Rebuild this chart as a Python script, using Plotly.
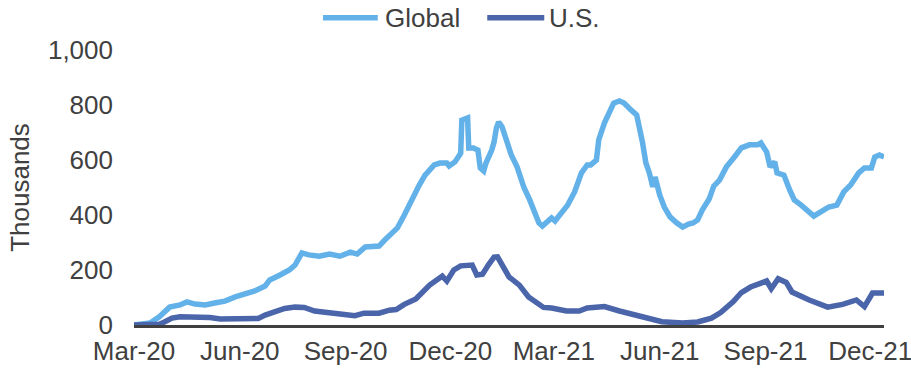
import plotly.graph_objects as go

# ---- Data (thousands, 7-day average cases) ----
global_dates = [
    "2020-03-01", "2020-03-15", "2020-03-23", "2020-04-01", "2020-04-10", "2020-04-16",
    "2020-04-23", "2020-05-02", "2020-05-10", "2020-05-19", "2020-05-28", "2020-06-05",
    "2020-06-14", "2020-06-23", "2020-06-27", "2020-07-06", "2020-07-14", "2020-07-19",
    "2020-07-23", "2020-07-25", "2020-07-31", "2020-08-09", "2020-08-18", "2020-08-27",
    "2020-09-05", "2020-09-11", "2020-09-18", "2020-09-24", "2020-09-30", "2020-10-05",
    "2020-10-11", "2020-10-16", "2020-10-22", "2020-10-28", "2020-11-04", "2020-11-09",
    "2020-11-13", "2020-11-17", "2020-11-22", "2020-11-28", "2020-11-30", "2020-12-05",
    "2020-12-09", "2020-12-10", "2020-12-11", "2020-12-14", "2020-12-16", "2020-12-17",
    "2020-12-21", "2020-12-25", "2020-12-27", "2020-12-30", "2021-01-01", "2021-01-06",
    "2021-01-08", "2021-01-10", "2021-01-12", "2021-01-15", "2021-01-19", "2021-01-23",
    "2021-01-28", "2021-01-30", "2021-02-03", "2021-02-08", "2021-02-12", "2021-02-16",
    "2021-02-19", "2021-02-23", "2021-02-27", "2021-03-02", "2021-03-08", "2021-03-13",
    "2021-03-19", "2021-03-25", "2021-03-30", "2021-04-02", "2021-04-07", "2021-04-09",
    "2021-04-14", "2021-04-18", "2021-04-22", "2021-04-27", "2021-05-01", "2021-05-07",
    "2021-05-12", "2021-05-17", "2021-05-20", "2021-05-23", "2021-05-26", "2021-05-28",
    "2021-06-01", "2021-06-05", "2021-06-10", "2021-06-16", "2021-06-21", "2021-06-26",
    "2021-06-30", "2021-07-04", "2021-07-08", "2021-07-14", "2021-07-18", "2021-07-23",
    "2021-07-29", "2021-08-05", "2021-08-11", "2021-08-18", "2021-08-25", "2021-08-28",
    "2021-09-02", "2021-09-05", "2021-09-09", "2021-09-11", "2021-09-17", "2021-09-22",
    "2021-09-26", "2021-10-02", "2021-10-07", "2021-10-13", "2021-10-19", "2021-10-26",
    "2021-11-02", "2021-11-08", "2021-11-14", "2021-11-21", "2021-11-26", "2021-12-02",
    "2021-12-05", "2021-12-09", "2021-12-13",
]
global_values = [
    0, 7, 30, 65, 73, 84,
    76, 73, 80, 87, 102, 113,
    124, 142, 164, 182, 200, 218,
    247, 262, 255, 250, 258, 250,
    265, 258, 284, 287, 287, 309,
    335, 353, 400, 455, 509, 545,
    564, 582, 589, 589, 578, 593,
    618, 625, 745, 753, 753, 644,
    644, 636, 571, 560, 589, 636,
    665, 716, 738, 720, 673, 618,
    575, 545, 500, 455, 407, 371,
    360, 375, 389, 378, 411, 436,
    484, 553, 582, 582, 600, 673,
    735, 771, 807, 815, 807, 782,
    764, 665, 589, 553, 502, 538,
    473, 429, 393, 371, 356, 367,
    371, 382, 418, 458, 505, 527,
    575, 611, 644, 655, 655, 662,
    629, 575, 593, 553, 545, 491,
    455, 436, 418, 396, 411, 429,
    436, 484, 509, 553, 571, 571,
    611, 618, 611,
]

us_dates = [
    "2020-03-01", "2020-03-23", "2020-03-27", "2020-04-03", "2020-04-10", "2020-04-19",
    "2020-04-28", "2020-05-06", "2020-05-15", "2020-05-28", "2020-06-10", "2020-06-17",
    "2020-06-23", "2020-07-01", "2020-07-10", "2020-07-19", "2020-07-27", "2020-08-05",
    "2020-08-14", "2020-08-22", "2020-08-31", "2020-09-09", "2020-09-17", "2020-09-30",
    "2020-10-09", "2020-10-15", "2020-10-22", "2020-11-01", "2020-11-13", "2020-11-24",
    "2020-11-28", "2020-12-04", "2020-12-10", "2020-12-20", "2020-12-24", "2020-12-29",
    "2021-01-03", "2021-01-08", "2021-01-11", "2021-01-21", "2021-01-30", "2021-02-07",
    "2021-02-20", "2021-02-27", "2021-03-12", "2021-03-23", "2021-03-30", "2021-04-14",
    "2021-04-27", "2021-05-10", "2021-05-20", "2021-06-03", "2021-06-21", "2021-07-04",
    "2021-07-16", "2021-07-24", "2021-08-04", "2021-08-11", "2021-08-19", "2021-08-26",
    "2021-09-02", "2021-09-06", "2021-09-12", "2021-09-19", "2021-09-24", "2021-10-09",
    "2021-10-25", "2021-11-07", "2021-11-19", "2021-11-26", "2021-12-03", "2021-12-13",
]
us_values = [
    0, 3, 10, 25, 30, 29,
    29, 27, 22, 22, 20, 24,
    36, 47, 60, 65, 64, 51,
    46, 45, 40, 34, 43, 43,
    54, 56, 75, 95, 145, 178,
    160, 200, 215, 218, 182, 185,
    218, 247, 248, 175, 145, 102,
    64, 62, 51, 51, 62, 67,
    51, 38, 25, 12, 7, 11,
    25, 45, 85, 118, 138, 150,
    160, 132, 168, 155, 120, 91,
    65, 75, 91, 67, 116, 116,
]

series_names = ["Global", "U.S."]
series_colors = ["#63B1E9", "#4A65AA"]

tick_dates = ["2020-03-01", "2020-06-01", "2020-09-01", "2020-12-01",
              "2021-03-01", "2021-06-01", "2021-09-01", "2021-12-01"]
tick_labels = ["Mar-20", "Jun-20", "Sep-20", "Dec-20",
               "Mar-21", "Jun-21", "Sep-21", "Dec-21"]
y_ticks = [0, 200, 400, 600, 800, 1000]
y_labels = ["0", "200", "400", "600", "800", "1,000"]

FONT = "Liberation Sans, Arial, sans-serif"
TXT = "#404040"
LW = 5.5

fig = go.Figure()
for name, color, xs, ys in zip(series_names, series_colors,
                               [global_dates, us_dates], [global_values, us_values]):
    fig.add_trace(go.Scatter(x=xs, y=ys, mode="lines", name=name,
                             line=dict(color=color, width=LW),
                             showlegend=False))

# Custom legend (line sample + label) centred above the plot, in paper coords
legend_items = [(0.252, 0.325, 0.332), (0.471, 0.547, 0.551)]
leg_y = 1.117
for (x0, x1, xt), name, color in zip(legend_items, series_names, series_colors):
    fig.add_shape(type="line", xref="paper", yref="paper", x0=x0, x1=x1,
                  y0=leg_y, y1=leg_y, line=dict(color=color, width=LW))
    fig.add_annotation(xref="paper", yref="paper", x=xt, y=leg_y, text=name,
                       showarrow=False, xanchor="left", yanchor="middle",
                       font=dict(size=26, color=TXT, family=FONT))

fig.update_layout(
    width=911, height=374,
    margin=dict(l=134, r=27, t=50, b=49, autoexpand=False),
    paper_bgcolor="white", plot_bgcolor="white",
    font=dict(family=FONT, size=26, color=TXT),
    showlegend=False,
    xaxis=dict(type="date", range=["2020-03-01", "2021-12-13"],
               tickvals=tick_dates, ticktext=tick_labels,
               showgrid=False, zeroline=False, showline=True,
               linecolor="#404040", linewidth=3, ticks="",
               tickfont=dict(size=26, color=TXT), ticklabelstandoff=1,
               ticklabeloverflow="allow", automargin=False),
    yaxis=dict(range=[0, 1000], tickvals=y_ticks, ticktext=y_labels,
               showgrid=False, zeroline=False, showline=False, ticks="",
               tickfont=dict(size=26, color=TXT), ticklabelstandoff=20,
               automargin=False,
               title=dict(text="Thousands", font=dict(size=26, color=TXT), standoff=10)),
)

fig.write_html("out.html")
